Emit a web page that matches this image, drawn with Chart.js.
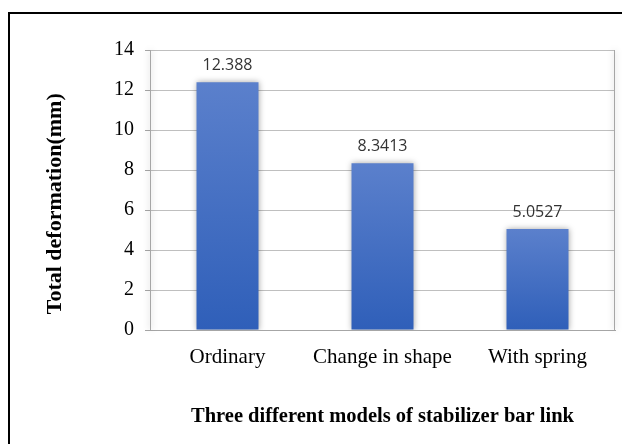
<!DOCTYPE html>
<html>
<head>
<meta charset="utf-8">
<script src="https://cdn.jsdelivr.net/npm/chart.js@4"></script>
<style>
  html, body { margin: 0; padding: 0; background: #fff; overflow: hidden; }
  #frame { position: absolute; left: 8px; top: 12px; width: 700px; height: 500px; border: 2px solid #000; }
  #wrap { position: absolute; left: 0; top: 0; width: 622px; height: 444px; }
</style>
</head>
<body>
<div id="frame"></div>
<div id="wrap"><canvas id="myChart"></canvas></div>
<script>
// chart data
const categories = ["Ordinary", "Change in shape", "With spring"];
const deformation = [12.388, 8.3413, 5.0527];
const valueLabels = ["12.388", "8.3413", "5.0527"];
const yTicks = [0, 2, 4, 6, 8, 10, 12, 14];

const ctx = document.getElementById("myChart");

// gradient per bar, lighter at the top
function barGradient(context) {
  const chart = context.chart;
  const y = chart.scales.y;
  if (!chart.chartArea || !y) return "#4a72c4";
  const top = y.getPixelForValue(context.raw);
  const bottom = y.getPixelForValue(0);
  const g = chart.ctx.createLinearGradient(0, top, 0, bottom);
  g.addColorStop(0, "#5b80cc");
  g.addColorStop(1, "#2f5fb9");
  return g;
}

// soft shadow round the bars
const barShadow = {
  id: "barShadow",
  beforeDatasetsDraw(chart) {
    const c = chart.ctx;
    c.save();
    c.shadowColor = "rgba(0,0,0,0.35)";
    c.shadowBlur = 6;
  },
  afterDatasetsDraw(chart) {
    chart.ctx.restore();
  },
};

// value labels over the bars
const valueLabelPlugin = {
  id: "valueLabels",
  afterDatasetsDraw(chart) {
    const c = chart.ctx;
    const meta = chart.getDatasetMeta(0);
    c.save();
    c.font = "16px 'Open Sans'";
    c.fillStyle = "#333";
    c.textAlign = "center";
    c.textBaseline = "middle";
    meta.data.forEach((bar, i) => {
      c.fillText(valueLabels[i], bar.x, bar.y - 17);
    });
    c.restore();
  },
};

// grey outline of the plot area
const plotBorder = {
  id: "plotBorder",
  beforeDatasetsDraw(chart) {
    const a = chart.chartArea;
    const c = chart.ctx;
    c.save();
    c.strokeStyle = "#a6a6a6";
    c.lineWidth = 1;
    c.beginPath();
    c.moveTo(a.left + 0.5, a.top);
    c.lineTo(a.left + 0.5, a.bottom);
    c.moveTo(a.right - 0.5, a.top);
    c.lineTo(a.right - 0.5, a.bottom);
    c.stroke();
    c.restore();
  },
};

new Chart(ctx, {
  type: "bar",
  data: {
    labels: categories,
    datasets: [
      {
        label: "Total deformation",
        data: deformation,
        backgroundColor: barGradient,
        borderWidth: 0,
        categoryPercentage: 1,
        barPercentage: 0.4,
      },
    ],
  },
  options: {
    responsive: true,
    maintainAspectRatio: false,
    animation: false,
    layout: { padding: { left: 0, top: 50, right: 7, bottom: 0 } },
    plugins: {
      legend: { display: false },
      tooltip: { enabled: false },
    },
    scales: {
      x: {
        grid: { display: false },
        border: { display: true, color: "#a6a6a6", width: 1 },
        ticks: {
          color: "#000",
          font: { family: "'Liberation Serif'", size: 21 },
          padding: 7,
          maxRotation: 0,
        },
        title: {
          display: true,
          text: "Three different models of stabilizer bar link",
          color: "#000",
          font: { family: "'Liberation Serif'", size: 20.5, weight: "bold" },
          padding: { top: 0, bottom: 15 },
        },
        afterFit(scale) { scale.height = 114; },
      },
      y: {
        min: 0,
        max: 14,
        afterBuildTicks(scale) { scale.ticks = yTicks.map((v) => ({ value: v })); },
        grid: { color: "#bfbfbf", tickLength: 5, tickColor: "#a6a6a6" },
        border: { display: false },
        ticks: {
          color: "#000",
          font: { family: "'Liberation Serif'", size: 20 },
          padding: 11,
        },
        title: {
          display: true,
          // trailing spaces push the title down a little, as in the original
          text: "Total deformation(mm)     ",
          color: "#000",
          font: { family: "'Liberation Serif'", size: 22, weight: "bold" },
          padding: { top: 42, bottom: 0 },
        },
        afterFit(scale) { scale.width = 150; },
      },
    },
  },
  plugins: [barShadow, plotBorder, valueLabelPlugin],
});
</script>
</body>
</html>
